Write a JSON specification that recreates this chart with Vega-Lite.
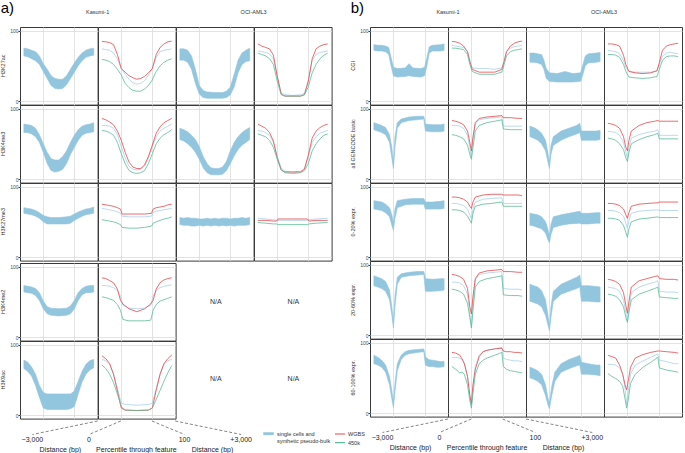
{
"$schema":"https://vega.github.io/schema/vega-lite/v6.json",
"padding":{"left":0,"top":0,"right":0,"bottom":0},
"background":"white",
"spacing":17,
"resolve":{"scale":{"fill":"shared","stroke":"shared"},"legend":{"fill":"shared","stroke":"shared"}},
"config":{"font":"Liberation Sans","view":{"stroke":"#3a3a3a","strokeWidth":1},
"axis":{"gridColor":"#dcdcdc","gridWidth":0.8,"labelFontSize":5,"labelColor":"#4d4d4d","tickColor":"#333","tickSize":2,"labelPadding":0,"domain":false},
"legend":{"labelFontSize":5.5,"labelColor":"#333"}},
"datasets":{
"na":[{"m":"H3K4me2","k":"O1","t":"N/A"},{"m":"H3K4me2","k":"O2","t":"N/A"},{"m":"H3K9ac","k":"O1","t":"N/A"},{"m":"H3K9ac","k":"O2","t":"N/A"}],
"ann":[{"lab":"−3,000","top":100,"bot":16},{"lab":"0","top":130,"bot":89},{"lab":"100","top":170,"bot":212},{"lab":"+3,000","top":200,"bot":285}],
"anntitle":[{"t":"Distance (bp)","c":52},{"t":"Percentile through feature","c":150},{"t":"Distance (bp)","c":248}],
"a":[
{"m":"H3K27ac","k":"K1","x":5,"lo":64,"hi":75},{"m":"H3K27ac","k":"K1","x":10,"lo":63,"hi":74},{"m":"H3K27ac","k":"K1","x":15,"lo":60,"hi":72},{"m":"H3K27ac","k":"K1","x":20,"lo":57,"hi":70},{"m":"H3K27ac","k":"K1","x":25,"lo":52,"hi":64},{"m":"H3K27ac","k":"K1","x":30,"lo":42,"hi":53},{"m":"H3K27ac","k":"K1","x":35,"lo":32,"hi":45},{"m":"H3K27ac","k":"K1","x":40,"lo":22,"hi":36},{"m":"H3K27ac","k":"K1","x":45,"lo":18,"hi":32},{"m":"H3K27ac","k":"K1","x":50,"lo":17,"hi":31},{"m":"H3K27ac","k":"K1","x":55,"lo":18,"hi":31},{"m":"H3K27ac","k":"K1","x":60,"lo":23,"hi":36},{"m":"H3K27ac","k":"K1","x":65,"lo":32,"hi":45},{"m":"H3K27ac","k":"K1","x":70,"lo":41,"hi":54},{"m":"H3K27ac","k":"K1","x":75,"lo":50,"hi":62},{"m":"H3K27ac","k":"K1","x":80,"lo":57,"hi":68},{"m":"H3K27ac","k":"K1","x":85,"lo":62,"hi":72},{"m":"H3K27ac","k":"K1","x":90,"lo":64,"hi":74},{"m":"H3K27ac","k":"K1","x":95,"lo":65,"hi":75},
{"m":"H3K27ac","k":"K2","x":5,"p":74,"w":84.5,"g":59},{"m":"H3K27ac","k":"K2","x":10,"p":73,"w":84,"g":58},{"m":"H3K27ac","k":"K2","x":15,"p":72,"w":83,"g":56},{"m":"H3K27ac","k":"K2","x":20,"p":68,"w":80,"g":52},{"m":"H3K27ac","k":"K2","x":25,"p":60,"w":66,"g":45},{"m":"H3K27ac","k":"K2","x":30,"p":46,"w":46,"g":37},{"m":"H3K27ac","k":"K2","x":35,"p":38,"w":41,"g":25},{"m":"H3K27ac","k":"K2","x":40,"p":31,"w":36,"g":19},{"m":"H3K27ac","k":"K2","x":45,"p":26,"w":33,"g":15},{"m":"H3K27ac","k":"K2","x":50,"p":24,"w":31,"g":14},{"m":"H3K27ac","k":"K2","x":55,"p":25,"w":32,"g":14},{"m":"H3K27ac","k":"K2","x":60,"p":29,"w":35,"g":17},{"m":"H3K27ac","k":"K2","x":65,"p":37,"w":40,"g":22},{"m":"H3K27ac","k":"K2","x":70,"p":46,"w":46,"g":30},{"m":"H3K27ac","k":"K2","x":75,"p":62,"w":66,"g":42},{"m":"H3K27ac","k":"K2","x":80,"p":70,"w":76,"g":50},{"m":"H3K27ac","k":"K2","x":85,"p":72,"w":81,"g":55},{"m":"H3K27ac","k":"K2","x":90,"p":73,"w":84,"g":58},{"m":"H3K27ac","k":"K2","x":95,"p":74,"w":85,"g":60},
{"m":"H3K27ac","k":"O1","x":5,"lo":58,"hi":74},{"m":"H3K27ac","k":"O1","x":10,"lo":58,"hi":74},{"m":"H3K27ac","k":"O1","x":15,"lo":55,"hi":72},{"m":"H3K27ac","k":"O1","x":20,"lo":45,"hi":64},{"m":"H3K27ac","k":"O1","x":25,"lo":25,"hi":45},{"m":"H3K27ac","k":"O1","x":30,"lo":10,"hi":22},{"m":"H3K27ac","k":"O1","x":35,"lo":5,"hi":15},{"m":"H3K27ac","k":"O1","x":40,"lo":4,"hi":13},{"m":"H3K27ac","k":"O1","x":50,"lo":4,"hi":12},{"m":"H3K27ac","k":"O1","x":60,"lo":4,"hi":12},{"m":"H3K27ac","k":"O1","x":65,"lo":5,"hi":14},{"m":"H3K27ac","k":"O1","x":70,"lo":9,"hi":20},{"m":"H3K27ac","k":"O1","x":75,"lo":20,"hi":38},{"m":"H3K27ac","k":"O1","x":80,"lo":40,"hi":58},{"m":"H3K27ac","k":"O1","x":85,"lo":52,"hi":68},{"m":"H3K27ac","k":"O1","x":90,"lo":56,"hi":72},{"m":"H3K27ac","k":"O1","x":95,"lo":57,"hi":75},
{"m":"H3K27ac","k":"O2","x":5,"p":71,"w":81,"g":68},{"m":"H3K27ac","k":"O2","x":10,"p":70,"w":78,"g":66},{"m":"H3K27ac","k":"O2","x":15,"p":69,"w":76,"g":64},{"m":"H3K27ac","k":"O2","x":20,"p":67,"w":74,"g":60},{"m":"H3K27ac","k":"O2","x":25,"p":60,"w":65,"g":52},{"m":"H3K27ac","k":"O2","x":30,"p":35,"w":35,"g":28},{"m":"H3K27ac","k":"O2","x":35,"p":12,"w":10,"g":9},{"m":"H3K27ac","k":"O2","x":40,"p":9,"w":7,"g":7},{"m":"H3K27ac","k":"O2","x":50,"p":8,"w":7,"g":7},{"m":"H3K27ac","k":"O2","x":60,"p":9,"w":7,"g":7},{"m":"H3K27ac","k":"O2","x":65,"p":11,"w":9,"g":9},{"m":"H3K27ac","k":"O2","x":70,"p":30,"w":28,"g":20},{"m":"H3K27ac","k":"O2","x":75,"p":58,"w":60,"g":40},{"m":"H3K27ac","k":"O2","x":80,"p":66,"w":74,"g":52},{"m":"H3K27ac","k":"O2","x":85,"p":69,"w":78,"g":60},{"m":"H3K27ac","k":"O2","x":90,"p":70,"w":80,"g":65},{"m":"H3K27ac","k":"O2","x":95,"p":71,"w":81,"g":68},
{"m":"H3K4me3","k":"K1","x":5,"lo":66,"hi":78},{"m":"H3K4me3","k":"K1","x":10,"lo":66,"hi":77},{"m":"H3K4me3","k":"K1","x":15,"lo":64,"hi":76},{"m":"H3K4me3","k":"K1","x":20,"lo":60,"hi":72},{"m":"H3K4me3","k":"K1","x":25,"lo":52,"hi":63},{"m":"H3K4me3","k":"K1","x":30,"lo":38,"hi":50},{"m":"H3K4me3","k":"K1","x":35,"lo":22,"hi":38},{"m":"H3K4me3","k":"K1","x":40,"lo":12,"hi":29},{"m":"H3K4me3","k":"K1","x":45,"lo":10,"hi":27},{"m":"H3K4me3","k":"K1","x":50,"lo":11,"hi":27},{"m":"H3K4me3","k":"K1","x":55,"lo":14,"hi":32},{"m":"H3K4me3","k":"K1","x":60,"lo":22,"hi":40},{"m":"H3K4me3","k":"K1","x":65,"lo":35,"hi":52},{"m":"H3K4me3","k":"K1","x":70,"lo":45,"hi":62},{"m":"H3K4me3","k":"K1","x":75,"lo":55,"hi":70},{"m":"H3K4me3","k":"K1","x":80,"lo":62,"hi":75},{"m":"H3K4me3","k":"K1","x":85,"lo":65,"hi":77},{"m":"H3K4me3","k":"K1","x":90,"lo":66,"hi":78},{"m":"H3K4me3","k":"K1","x":95,"lo":67,"hi":80},
{"m":"H3K4me3","k":"K2","x":5,"p":76,"w":86,"g":69},{"m":"H3K4me3","k":"K2","x":10,"p":76,"w":84,"g":68},{"m":"H3K4me3","k":"K2","x":15,"p":75,"w":81,"g":66},{"m":"H3K4me3","k":"K2","x":20,"p":72,"w":77,"g":62},{"m":"H3K4me3","k":"K2","x":25,"p":63,"w":68,"g":52},{"m":"H3K4me3","k":"K2","x":30,"p":46,"w":55,"g":36},{"m":"H3K4me3","k":"K2","x":35,"p":30,"w":38,"g":22},{"m":"H3K4me3","k":"K2","x":40,"p":18,"w":24,"g":12},{"m":"H3K4me3","k":"K2","x":45,"p":14,"w":17,"g":9},{"m":"H3K4me3","k":"K2","x":50,"p":13,"w":15,"g":8},{"m":"H3K4me3","k":"K2","x":55,"p":14,"w":15,"g":9},{"m":"H3K4me3","k":"K2","x":60,"p":18,"w":20,"g":12},{"m":"H3K4me3","k":"K2","x":65,"p":30,"w":32,"g":22},{"m":"H3K4me3","k":"K2","x":70,"p":46,"w":48,"g":36},{"m":"H3K4me3","k":"K2","x":75,"p":60,"w":65,"g":50},{"m":"H3K4me3","k":"K2","x":80,"p":68,"w":74,"g":58},{"m":"H3K4me3","k":"K2","x":85,"p":72,"w":80,"g":63},{"m":"H3K4me3","k":"K2","x":90,"p":75,"w":83,"g":66},{"m":"H3K4me3","k":"K2","x":95,"p":78,"w":86,"g":70},
{"m":"H3K4me3","k":"O1","x":5,"lo":56,"hi":72},{"m":"H3K4me3","k":"O1","x":10,"lo":54,"hi":70},{"m":"H3K4me3","k":"O1","x":15,"lo":50,"hi":67},{"m":"H3K4me3","k":"O1","x":20,"lo":45,"hi":62},{"m":"H3K4me3","k":"O1","x":25,"lo":38,"hi":56},{"m":"H3K4me3","k":"O1","x":30,"lo":28,"hi":46},{"m":"H3K4me3","k":"O1","x":35,"lo":16,"hi":32},{"m":"H3K4me3","k":"O1","x":40,"lo":9,"hi":22},{"m":"H3K4me3","k":"O1","x":45,"lo":6,"hi":16},{"m":"H3K4me3","k":"O1","x":50,"lo":6,"hi":15},{"m":"H3K4me3","k":"O1","x":55,"lo":6,"hi":15},{"m":"H3K4me3","k":"O1","x":60,"lo":7,"hi":17},{"m":"H3K4me3","k":"O1","x":65,"lo":12,"hi":25},{"m":"H3K4me3","k":"O1","x":70,"lo":22,"hi":40},{"m":"H3K4me3","k":"O1","x":75,"lo":33,"hi":52},{"m":"H3K4me3","k":"O1","x":80,"lo":42,"hi":60},{"m":"H3K4me3","k":"O1","x":85,"lo":48,"hi":66},{"m":"H3K4me3","k":"O1","x":90,"lo":52,"hi":70},{"m":"H3K4me3","k":"O1","x":95,"lo":56,"hi":73},
{"m":"H3K4me3","k":"O2","x":5,"p":69,"w":78,"g":64},{"m":"H3K4me3","k":"O2","x":10,"p":68,"w":75,"g":62},{"m":"H3K4me3","k":"O2","x":15,"p":66,"w":72,"g":60},{"m":"H3K4me3","k":"O2","x":20,"p":62,"w":66,"g":55},{"m":"H3K4me3","k":"O2","x":25,"p":52,"w":54,"g":45},{"m":"H3K4me3","k":"O2","x":30,"p":32,"w":30,"g":28},{"m":"H3K4me3","k":"O2","x":35,"p":16,"w":13,"g":13},{"m":"H3K4me3","k":"O2","x":40,"p":11,"w":10,"g":9},{"m":"H3K4me3","k":"O2","x":50,"p":10,"w":10,"g":8},{"m":"H3K4me3","k":"O2","x":60,"p":11,"w":10,"g":9},{"m":"H3K4me3","k":"O2","x":65,"p":15,"w":14,"g":12},{"m":"H3K4me3","k":"O2","x":70,"p":32,"w":34,"g":22},{"m":"H3K4me3","k":"O2","x":75,"p":52,"w":58,"g":40},{"m":"H3K4me3","k":"O2","x":80,"p":60,"w":68,"g":50},{"m":"H3K4me3","k":"O2","x":85,"p":65,"w":73,"g":57},{"m":"H3K4me3","k":"O2","x":90,"p":67,"w":76,"g":62},{"m":"H3K4me3","k":"O2","x":95,"p":69,"w":78,"g":64},
{"m":"H3K27me3","k":"K1","x":5,"lo":62,"hi":70},{"m":"H3K27me3","k":"K1","x":10,"lo":61,"hi":69},{"m":"H3K27me3","k":"K1","x":15,"lo":60,"hi":68},{"m":"H3K27me3","k":"K1","x":20,"lo":58,"hi":66},{"m":"H3K27me3","k":"K1","x":25,"lo":55,"hi":63},{"m":"H3K27me3","k":"K1","x":30,"lo":50,"hi":59},{"m":"H3K27me3","k":"K1","x":35,"lo":47,"hi":57},{"m":"H3K27me3","k":"K1","x":40,"lo":47,"hi":56},{"m":"H3K27me3","k":"K1","x":50,"lo":47,"hi":56},{"m":"H3K27me3","k":"K1","x":60,"lo":47,"hi":57},{"m":"H3K27me3","k":"K1","x":65,"lo":48,"hi":58},{"m":"H3K27me3","k":"K1","x":70,"lo":52,"hi":61},{"m":"H3K27me3","k":"K1","x":75,"lo":55,"hi":64},{"m":"H3K27me3","k":"K1","x":80,"lo":58,"hi":66},{"m":"H3K27me3","k":"K1","x":85,"lo":60,"hi":68},{"m":"H3K27me3","k":"K1","x":90,"lo":61,"hi":69},{"m":"H3K27me3","k":"K1","x":95,"lo":62,"hi":71},
{"m":"H3K27me3","k":"K2","x":5,"p":69,"w":75,"g":53},{"m":"H3K27me3","k":"K2","x":10,"p":68,"w":74,"g":52},{"m":"H3K27me3","k":"K2","x":15,"p":67,"w":73,"g":51},{"m":"H3K27me3","k":"K2","x":20,"p":66,"w":72,"g":50},{"m":"H3K27me3","k":"K2","x":25,"p":64,"w":70,"g":48},{"m":"H3K27me3","k":"K2","x":29,"p":62,"w":68,"g":46},{"m":"H3K27me3","k":"K2","x":31,"p":58,"w":61,"g":42},{"m":"H3K27me3","k":"K2","x":40,"p":57,"w":61,"g":41},{"m":"H3K27me3","k":"K2","x":50,"p":57,"w":61,"g":41},{"m":"H3K27me3","k":"K2","x":60,"p":57,"w":61,"g":42},{"m":"H3K27me3","k":"K2","x":69,"p":58,"w":62,"g":44},{"m":"H3K27me3","k":"K2","x":71,"p":63,"w":68,"g":48},{"m":"H3K27me3","k":"K2","x":75,"p":65,"w":70,"g":50},{"m":"H3K27me3","k":"K2","x":80,"p":66,"w":71,"g":52},{"m":"H3K27me3","k":"K2","x":85,"p":67,"w":72,"g":54},{"m":"H3K27me3","k":"K2","x":90,"p":68,"w":74,"g":55},{"m":"H3K27me3","k":"K2","x":95,"p":69,"w":75,"g":57},
{"m":"H3K27me3","k":"O1","x":5,"lo":46,"hi":56},{"m":"H3K27me3","k":"O1","x":10,"lo":45,"hi":55},{"m":"H3K27me3","k":"O1","x":15,"lo":45,"hi":56},{"m":"H3K27me3","k":"O1","x":20,"lo":44,"hi":55},{"m":"H3K27me3","k":"O1","x":25,"lo":44,"hi":55},{"m":"H3K27me3","k":"O1","x":30,"lo":45,"hi":54},{"m":"H3K27me3","k":"O1","x":35,"lo":44,"hi":54},{"m":"H3K27me3","k":"O1","x":40,"lo":45,"hi":55},{"m":"H3K27me3","k":"O1","x":45,"lo":44,"hi":54},{"m":"H3K27me3","k":"O1","x":50,"lo":45,"hi":55},{"m":"H3K27me3","k":"O1","x":55,"lo":44,"hi":54},{"m":"H3K27me3","k":"O1","x":60,"lo":45,"hi":55},{"m":"H3K27me3","k":"O1","x":65,"lo":44,"hi":55},{"m":"H3K27me3","k":"O1","x":70,"lo":45,"hi":54},{"m":"H3K27me3","k":"O1","x":75,"lo":44,"hi":55},{"m":"H3K27me3","k":"O1","x":80,"lo":45,"hi":55},{"m":"H3K27me3","k":"O1","x":85,"lo":45,"hi":56},{"m":"H3K27me3","k":"O1","x":90,"lo":45,"hi":55},{"m":"H3K27me3","k":"O1","x":95,"lo":46,"hi":56},
{"m":"H3K27me3","k":"O2","x":5,"p":55,"w":52,"g":49},{"m":"H3K27me3","k":"O2","x":15,"p":54,"w":52,"g":48},{"m":"H3K27me3","k":"O2","x":25,"p":53,"w":51,"g":47},{"m":"H3K27me3","k":"O2","x":29,"p":52,"w":51,"g":47},{"m":"H3K27me3","k":"O2","x":31,"p":52,"w":54,"g":46},{"m":"H3K27me3","k":"O2","x":50,"p":52,"w":54,"g":46},{"m":"H3K27me3","k":"O2","x":69,"p":52,"w":54,"g":46},{"m":"H3K27me3","k":"O2","x":71,"p":53,"w":51,"g":47},{"m":"H3K27me3","k":"O2","x":80,"p":54,"w":52,"g":48},{"m":"H3K27me3","k":"O2","x":95,"p":55,"w":52,"g":49},
{"m":"H3K4me2","k":"K1","x":5,"lo":64,"hi":73},{"m":"H3K4me2","k":"K1","x":10,"lo":63,"hi":72},{"m":"H3K4me2","k":"K1","x":15,"lo":62,"hi":71},{"m":"H3K4me2","k":"K1","x":20,"lo":59,"hi":69},{"m":"H3K4me2","k":"K1","x":25,"lo":52,"hi":63},{"m":"H3K4me2","k":"K1","x":30,"lo":40,"hi":51},{"m":"H3K4me2","k":"K1","x":35,"lo":33,"hi":43},{"m":"H3K4me2","k":"K1","x":40,"lo":31,"hi":41},{"m":"H3K4me2","k":"K1","x":50,"lo":30,"hi":40},{"m":"H3K4me2","k":"K1","x":60,"lo":31,"hi":41},{"m":"H3K4me2","k":"K1","x":65,"lo":33,"hi":44},{"m":"H3K4me2","k":"K1","x":70,"lo":40,"hi":52},{"m":"H3K4me2","k":"K1","x":75,"lo":52,"hi":63},{"m":"H3K4me2","k":"K1","x":80,"lo":60,"hi":69},{"m":"H3K4me2","k":"K1","x":85,"lo":63,"hi":72},{"m":"H3K4me2","k":"K1","x":90,"lo":63,"hi":73},{"m":"H3K4me2","k":"K1","x":95,"lo":64,"hi":73},
{"m":"H3K4me2","k":"K2","x":5,"p":73,"w":84,"g":57},{"m":"H3K4me2","k":"K2","x":10,"p":73,"w":83,"g":56},{"m":"H3K4me2","k":"K2","x":15,"p":72,"w":80,"g":54},{"m":"H3K4me2","k":"K2","x":20,"p":70,"w":77,"g":52},{"m":"H3K4me2","k":"K2","x":25,"p":66,"w":68,"g":46},{"m":"H3K4me2","k":"K2","x":29,"p":58,"w":52,"g":38},{"m":"H3K4me2","k":"K2","x":32,"p":45,"w":47,"g":25},{"m":"H3K4me2","k":"K2","x":40,"p":41,"w":40,"g":23},{"m":"H3K4me2","k":"K2","x":50,"p":40,"w":36,"g":23},{"m":"H3K4me2","k":"K2","x":60,"p":41,"w":40,"g":23},{"m":"H3K4me2","k":"K2","x":68,"p":45,"w":47,"g":24},{"m":"H3K4me2","k":"K2","x":71,"p":58,"w":52,"g":38},{"m":"H3K4me2","k":"K2","x":75,"p":66,"w":68,"g":46},{"m":"H3K4me2","k":"K2","x":80,"p":70,"w":77,"g":51},{"m":"H3K4me2","k":"K2","x":85,"p":72,"w":81,"g":53},{"m":"H3K4me2","k":"K2","x":90,"p":73,"w":83,"g":55},{"m":"H3K4me2","k":"K2","x":95,"p":74,"w":84,"g":57},
{"m":"H3K9ac","k":"K1","x":5,"lo":66,"hi":78},{"m":"H3K9ac","k":"K1","x":10,"lo":62,"hi":75},{"m":"H3K9ac","k":"K1","x":15,"lo":55,"hi":68},{"m":"H3K9ac","k":"K1","x":20,"lo":42,"hi":58},{"m":"H3K9ac","k":"K1","x":25,"lo":25,"hi":42},{"m":"H3K9ac","k":"K1","x":30,"lo":10,"hi":32},{"m":"H3K9ac","k":"K1","x":35,"lo":8,"hi":30},{"m":"H3K9ac","k":"K1","x":40,"lo":8,"hi":30},{"m":"H3K9ac","k":"K1","x":50,"lo":8,"hi":30},{"m":"H3K9ac","k":"K1","x":60,"lo":8,"hi":30},{"m":"H3K9ac","k":"K1","x":65,"lo":9,"hi":30},{"m":"H3K9ac","k":"K1","x":70,"lo":12,"hi":34},{"m":"H3K9ac","k":"K1","x":75,"lo":30,"hi":48},{"m":"H3K9ac","k":"K1","x":80,"lo":47,"hi":62},{"m":"H3K9ac","k":"K1","x":85,"lo":58,"hi":72},{"m":"H3K9ac","k":"K1","x":90,"lo":64,"hi":77},{"m":"H3K9ac","k":"K1","x":95,"lo":67,"hi":79},
{"m":"H3K9ac","k":"K2","x":5,"p":79,"w":84,"g":71},{"m":"H3K9ac","k":"K2","x":10,"p":77,"w":80,"g":66},{"m":"H3K9ac","k":"K2","x":15,"p":72,"w":73,"g":58},{"m":"H3K9ac","k":"K2","x":20,"p":58,"w":58,"g":46},{"m":"H3K9ac","k":"K2","x":25,"p":38,"w":34,"g":30},{"m":"H3K9ac","k":"K2","x":30,"p":17,"w":10,"g":12},{"m":"H3K9ac","k":"K2","x":35,"p":15,"w":7,"g":7},{"m":"H3K9ac","k":"K2","x":50,"p":14,"w":6.5,"g":6.5},{"m":"H3K9ac","k":"K2","x":65,"p":15,"w":7,"g":7},{"m":"H3K9ac","k":"K2","x":70,"p":17,"w":10,"g":10},{"m":"H3K9ac","k":"K2","x":75,"p":38,"w":35,"g":22},{"m":"H3K9ac","k":"K2","x":80,"p":58,"w":58,"g":35},{"m":"H3K9ac","k":"K2","x":85,"p":72,"w":73,"g":48},{"m":"H3K9ac","k":"K2","x":90,"p":77,"w":80,"g":60},{"m":"H3K9ac","k":"K2","x":95,"p":79,"w":85,"g":70}
],
"b":[
{"m":"CGI","k":"K1","x":5,"lo":72,"hi":80},{"m":"CGI","k":"K1","x":10,"lo":71,"hi":79},{"m":"CGI","k":"K1","x":15,"lo":71,"hi":79},{"m":"CGI","k":"K1","x":20,"lo":70,"hi":78},{"m":"CGI","k":"K1","x":24,"lo":66,"hi":76},{"m":"CGI","k":"K1","x":27,"lo":50,"hi":62},{"m":"CGI","k":"K1","x":30,"lo":36,"hi":48},{"m":"CGI","k":"K1","x":35,"lo":34,"hi":46},{"m":"CGI","k":"K1","x":45,"lo":35,"hi":47},{"m":"CGI","k":"K1","x":50,"lo":36,"hi":53},{"m":"CGI","k":"K1","x":55,"lo":35,"hi":47},{"m":"CGI","k":"K1","x":65,"lo":34,"hi":46},{"m":"CGI","k":"K1","x":70,"lo":36,"hi":48},{"m":"CGI","k":"K1","x":73,"lo":50,"hi":62},{"m":"CGI","k":"K1","x":76,"lo":68,"hi":77},{"m":"CGI","k":"K1","x":80,"lo":71,"hi":79},{"m":"CGI","k":"K1","x":90,"lo":71,"hi":80},{"m":"CGI","k":"K1","x":95,"lo":72,"hi":81},
{"m":"CGI","k":"K2","x":5,"p":79,"w":84.5,"g":75},{"m":"CGI","k":"K2","x":10,"p":78,"w":84,"g":75},{"m":"CGI","k":"K2","x":15,"p":77,"w":82,"g":74},{"m":"CGI","k":"K2","x":20,"p":76,"w":78,"g":73},{"m":"CGI","k":"K2","x":25,"p":70,"w":70,"g":66},{"m":"CGI","k":"K2","x":28,"p":58,"w":56,"g":52},{"m":"CGI","k":"K2","x":31,"p":47,"w":45,"g":42},{"m":"CGI","k":"K2","x":40,"p":46,"w":41,"g":38},{"m":"CGI","k":"K2","x":50,"p":46,"w":41,"g":38},{"m":"CGI","k":"K2","x":60,"p":45,"w":41,"g":38},{"m":"CGI","k":"K2","x":69,"p":47,"w":45,"g":41},{"m":"CGI","k":"K2","x":72,"p":58,"w":56,"g":52},{"m":"CGI","k":"K2","x":75,"p":70,"w":70,"g":64},{"m":"CGI","k":"K2","x":80,"p":75,"w":78,"g":70},{"m":"CGI","k":"K2","x":85,"p":77,"w":82,"g":72},{"m":"CGI","k":"K2","x":90,"p":78,"w":84,"g":73},{"m":"CGI","k":"K2","x":95,"p":79,"w":85,"g":74},
{"m":"CGI","k":"O1","x":5,"lo":55,"hi":68},{"m":"CGI","k":"O1","x":10,"lo":55,"hi":68},{"m":"CGI","k":"O1","x":15,"lo":54,"hi":67},{"m":"CGI","k":"O1","x":20,"lo":52,"hi":66},{"m":"CGI","k":"O1","x":23,"lo":45,"hi":58},{"m":"CGI","k":"O1","x":26,"lo":32,"hi":46},{"m":"CGI","k":"O1","x":30,"lo":28,"hi":40},{"m":"CGI","k":"O1","x":40,"lo":27,"hi":39},{"m":"CGI","k":"O1","x":50,"lo":27,"hi":42},{"m":"CGI","k":"O1","x":60,"lo":27,"hi":39},{"m":"CGI","k":"O1","x":70,"lo":28,"hi":40},{"m":"CGI","k":"O1","x":73,"lo":38,"hi":52},{"m":"CGI","k":"O1","x":76,"lo":50,"hi":64},{"m":"CGI","k":"O1","x":80,"lo":54,"hi":67},{"m":"CGI","k":"O1","x":90,"lo":55,"hi":68},{"m":"CGI","k":"O1","x":95,"lo":56,"hi":69},
{"m":"CGI","k":"O2","x":5,"p":72,"w":81,"g":66},{"m":"CGI","k":"O2","x":10,"p":71,"w":81,"g":66},{"m":"CGI","k":"O2","x":15,"p":70,"w":80,"g":65},{"m":"CGI","k":"O2","x":20,"p":67,"w":78,"g":62},{"m":"CGI","k":"O2","x":25,"p":58,"w":65,"g":52},{"m":"CGI","k":"O2","x":28,"p":48,"w":52,"g":42},{"m":"CGI","k":"O2","x":32,"p":42,"w":42,"g":34},{"m":"CGI","k":"O2","x":40,"p":41,"w":40,"g":33},{"m":"CGI","k":"O2","x":50,"p":41,"w":39,"g":32},{"m":"CGI","k":"O2","x":60,"p":41,"w":40,"g":33},{"m":"CGI","k":"O2","x":68,"p":43,"w":43,"g":35},{"m":"CGI","k":"O2","x":71,"p":52,"w":55,"g":45},{"m":"CGI","k":"O2","x":75,"p":64,"w":72,"g":58},{"m":"CGI","k":"O2","x":80,"p":68,"w":78,"g":63},{"m":"CGI","k":"O2","x":85,"p":69,"w":80,"g":64},{"m":"CGI","k":"O2","x":90,"p":68,"w":81,"g":64},{"m":"CGI","k":"O2","x":95,"p":67,"w":82,"g":63},
{"m":"all GENCODE basic","k":"K1","x":5,"lo":70,"hi":80},{"m":"all GENCODE basic","k":"K1","x":10,"lo":68,"hi":78},{"m":"all GENCODE basic","k":"K1","x":15,"lo":66,"hi":76},{"m":"all GENCODE basic","k":"K1","x":20,"lo":63,"hi":73},{"m":"all GENCODE basic","k":"K1","x":25,"lo":52,"hi":63},{"m":"all GENCODE basic","k":"K1","x":28,"lo":30,"hi":45},{"m":"all GENCODE basic","k":"K1","x":30,"lo":15,"hi":22},{"m":"all GENCODE basic","k":"K1","x":32,"lo":45,"hi":60},{"m":"all GENCODE basic","k":"K1","x":35,"lo":72,"hi":80},{"m":"all GENCODE basic","k":"K1","x":40,"lo":80,"hi":85},{"m":"all GENCODE basic","k":"K1","x":50,"lo":83,"hi":88},{"m":"all GENCODE basic","k":"K1","x":60,"lo":84,"hi":89},{"m":"all GENCODE basic","k":"K1","x":69,"lo":85,"hi":89},{"m":"all GENCODE basic","k":"K1","x":71,"lo":68,"hi":78},{"m":"all GENCODE basic","k":"K1","x":80,"lo":67,"hi":77},{"m":"all GENCODE basic","k":"K1","x":90,"lo":67,"hi":77},{"m":"all GENCODE basic","k":"K1","x":95,"lo":68,"hi":78},
{"m":"all GENCODE basic","k":"K2","x":5,"p":76,"w":83,"g":63},{"m":"all GENCODE basic","k":"K2","x":10,"p":76,"w":82,"g":62},{"m":"all GENCODE basic","k":"K2","x":15,"p":75,"w":80,"g":60},{"m":"all GENCODE basic","k":"K2","x":20,"p":72,"w":77,"g":57},{"m":"all GENCODE basic","k":"K2","x":25,"p":62,"w":68,"g":48},{"m":"all GENCODE basic","k":"K2","x":28,"p":45,"w":52,"g":35},{"m":"all GENCODE basic","k":"K2","x":30,"p":31,"w":40,"g":28},{"m":"all GENCODE basic","k":"K2","x":32,"p":55,"w":60,"g":45},{"m":"all GENCODE basic","k":"K2","x":35,"p":78,"w":80,"g":68},{"m":"all GENCODE basic","k":"K2","x":40,"p":84,"w":86,"g":76},{"m":"all GENCODE basic","k":"K2","x":50,"p":86,"w":88,"g":80},{"m":"all GENCODE basic","k":"K2","x":60,"p":87,"w":89,"g":82},{"m":"all GENCODE basic","k":"K2","x":69,"p":88,"w":90,"g":84},{"m":"all GENCODE basic","k":"K2","x":71,"p":75,"w":87,"g":71},{"m":"all GENCODE basic","k":"K2","x":80,"p":75,"w":87,"g":70},{"m":"all GENCODE basic","k":"K2","x":90,"p":75,"w":86,"g":70},{"m":"all GENCODE basic","k":"K2","x":95,"p":75,"w":86,"g":70},
{"m":"all GENCODE basic","k":"O1","x":5,"lo":60,"hi":75},{"m":"all GENCODE basic","k":"O1","x":10,"lo":58,"hi":73},{"m":"all GENCODE basic","k":"O1","x":15,"lo":55,"hi":70},{"m":"all GENCODE basic","k":"O1","x":20,"lo":50,"hi":65},{"m":"all GENCODE basic","k":"O1","x":25,"lo":40,"hi":55},{"m":"all GENCODE basic","k":"O1","x":28,"lo":25,"hi":38},{"m":"all GENCODE basic","k":"O1","x":30,"lo":15,"hi":22},{"m":"all GENCODE basic","k":"O1","x":32,"lo":35,"hi":48},{"m":"all GENCODE basic","k":"O1","x":35,"lo":48,"hi":60},{"m":"all GENCODE basic","k":"O1","x":45,"lo":55,"hi":68},{"m":"all GENCODE basic","k":"O1","x":55,"lo":60,"hi":72},{"m":"all GENCODE basic","k":"O1","x":65,"lo":64,"hi":76},{"m":"all GENCODE basic","k":"O1","x":69,"lo":66,"hi":79},{"m":"all GENCODE basic","k":"O1","x":71,"lo":55,"hi":68},{"m":"all GENCODE basic","k":"O1","x":80,"lo":55,"hi":68},{"m":"all GENCODE basic","k":"O1","x":90,"lo":55,"hi":68},{"m":"all GENCODE basic","k":"O1","x":95,"lo":56,"hi":69},
{"m":"all GENCODE basic","k":"O2","x":5,"p":68,"w":79,"g":58},{"m":"all GENCODE basic","k":"O2","x":10,"p":67,"w":78,"g":57},{"m":"all GENCODE basic","k":"O2","x":15,"p":66,"w":76,"g":55},{"m":"all GENCODE basic","k":"O2","x":20,"p":62,"w":72,"g":50},{"m":"all GENCODE basic","k":"O2","x":25,"p":52,"w":60,"g":42},{"m":"all GENCODE basic","k":"O2","x":28,"p":38,"w":45,"g":30},{"m":"all GENCODE basic","k":"O2","x":30,"p":30,"w":40,"g":25},{"m":"all GENCODE basic","k":"O2","x":32,"p":45,"w":55,"g":38},{"m":"all GENCODE basic","k":"O2","x":35,"p":58,"w":68,"g":50},{"m":"all GENCODE basic","k":"O2","x":45,"p":63,"w":76,"g":56},{"m":"all GENCODE basic","k":"O2","x":55,"p":66,"w":80,"g":60},{"m":"all GENCODE basic","k":"O2","x":65,"p":68,"w":82,"g":63},{"m":"all GENCODE basic","k":"O2","x":69,"p":70,"w":83,"g":65},{"m":"all GENCODE basic","k":"O2","x":71,"p":62,"w":82,"g":57},{"m":"all GENCODE basic","k":"O2","x":80,"p":62,"w":82,"g":57},{"m":"all GENCODE basic","k":"O2","x":90,"p":62,"w":82,"g":57},{"m":"all GENCODE basic","k":"O2","x":95,"p":62,"w":82,"g":57},
{"m":"0-20% expr.","k":"K1","x":5,"lo":68,"hi":80},{"m":"0-20% expr.","k":"K1","x":10,"lo":67,"hi":79},{"m":"0-20% expr.","k":"K1","x":15,"lo":66,"hi":78},{"m":"0-20% expr.","k":"K1","x":20,"lo":63,"hi":75},{"m":"0-20% expr.","k":"K1","x":25,"lo":57,"hi":70},{"m":"0-20% expr.","k":"K1","x":28,"lo":45,"hi":60},{"m":"0-20% expr.","k":"K1","x":30,"lo":38,"hi":48},{"m":"0-20% expr.","k":"K1","x":32,"lo":55,"hi":68},{"m":"0-20% expr.","k":"K1","x":35,"lo":70,"hi":80},{"m":"0-20% expr.","k":"K1","x":45,"lo":74,"hi":82},{"m":"0-20% expr.","k":"K1","x":55,"lo":75,"hi":83},{"m":"0-20% expr.","k":"K1","x":69,"lo":75,"hi":83},{"m":"0-20% expr.","k":"K1","x":71,"lo":68,"hi":78},{"m":"0-20% expr.","k":"K1","x":80,"lo":68,"hi":78},{"m":"0-20% expr.","k":"K1","x":90,"lo":68,"hi":79},{"m":"0-20% expr.","k":"K1","x":95,"lo":69,"hi":80},
{"m":"0-20% expr.","k":"K2","x":5,"p":76,"w":85,"g":67},{"m":"0-20% expr.","k":"K2","x":10,"p":76,"w":85,"g":67},{"m":"0-20% expr.","k":"K2","x":15,"p":75,"w":84,"g":66},{"m":"0-20% expr.","k":"K2","x":20,"p":73,"w":82,"g":64},{"m":"0-20% expr.","k":"K2","x":25,"p":68,"w":78,"g":58},{"m":"0-20% expr.","k":"K2","x":28,"p":60,"w":72,"g":52},{"m":"0-20% expr.","k":"K2","x":30,"p":55,"w":69,"g":48},{"m":"0-20% expr.","k":"K2","x":32,"p":68,"w":78,"g":62},{"m":"0-20% expr.","k":"K2","x":35,"p":78,"w":85,"g":72},{"m":"0-20% expr.","k":"K2","x":45,"p":82,"w":88,"g":75},{"m":"0-20% expr.","k":"K2","x":55,"p":83,"w":89,"g":76},{"m":"0-20% expr.","k":"K2","x":69,"p":84,"w":89,"g":78},{"m":"0-20% expr.","k":"K2","x":71,"p":76,"w":88,"g":72},{"m":"0-20% expr.","k":"K2","x":80,"p":76,"w":88,"g":72},{"m":"0-20% expr.","k":"K2","x":90,"p":76,"w":88,"g":72},{"m":"0-20% expr.","k":"K2","x":95,"p":76,"w":87,"g":72},
{"m":"0-20% expr.","k":"O1","x":5,"lo":45,"hi":62},{"m":"0-20% expr.","k":"O1","x":10,"lo":44,"hi":61},{"m":"0-20% expr.","k":"O1","x":15,"lo":42,"hi":60},{"m":"0-20% expr.","k":"O1","x":20,"lo":40,"hi":57},{"m":"0-20% expr.","k":"O1","x":25,"lo":34,"hi":50},{"m":"0-20% expr.","k":"O1","x":28,"lo":25,"hi":40},{"m":"0-20% expr.","k":"O1","x":30,"lo":20,"hi":30},{"m":"0-20% expr.","k":"O1","x":32,"lo":32,"hi":46},{"m":"0-20% expr.","k":"O1","x":35,"lo":42,"hi":57},{"m":"0-20% expr.","k":"O1","x":45,"lo":45,"hi":60},{"m":"0-20% expr.","k":"O1","x":55,"lo":47,"hi":62},{"m":"0-20% expr.","k":"O1","x":69,"lo":48,"hi":65},{"m":"0-20% expr.","k":"O1","x":71,"lo":47,"hi":62},{"m":"0-20% expr.","k":"O1","x":80,"lo":47,"hi":62},{"m":"0-20% expr.","k":"O1","x":90,"lo":48,"hi":63},{"m":"0-20% expr.","k":"O1","x":95,"lo":48,"hi":63},
{"m":"0-20% expr.","k":"O2","x":5,"p":66,"w":76,"g":55},{"m":"0-20% expr.","k":"O2","x":10,"p":66,"w":76,"g":55},{"m":"0-20% expr.","k":"O2","x":15,"p":65,"w":75,"g":54},{"m":"0-20% expr.","k":"O2","x":20,"p":63,"w":73,"g":52},{"m":"0-20% expr.","k":"O2","x":25,"p":58,"w":68,"g":45},{"m":"0-20% expr.","k":"O2","x":28,"p":48,"w":60,"g":35},{"m":"0-20% expr.","k":"O2","x":30,"p":41,"w":55,"g":28},{"m":"0-20% expr.","k":"O2","x":32,"p":52,"w":63,"g":40},{"m":"0-20% expr.","k":"O2","x":35,"p":62,"w":72,"g":50},{"m":"0-20% expr.","k":"O2","x":45,"p":65,"w":75,"g":54},{"m":"0-20% expr.","k":"O2","x":55,"p":66,"w":76,"g":55},{"m":"0-20% expr.","k":"O2","x":69,"p":67,"w":77,"g":57},{"m":"0-20% expr.","k":"O2","x":71,"p":66,"w":78,"g":56},{"m":"0-20% expr.","k":"O2","x":80,"p":66,"w":78,"g":56},{"m":"0-20% expr.","k":"O2","x":90,"p":66,"w":78,"g":56},{"m":"0-20% expr.","k":"O2","x":95,"p":66,"w":78,"g":56},
{"m":"20-60% expr.","k":"K1","x":5,"lo":70,"hi":84},{"m":"20-60% expr.","k":"K1","x":10,"lo":68,"hi":82},{"m":"20-60% expr.","k":"K1","x":15,"lo":66,"hi":80},{"m":"20-60% expr.","k":"K1","x":20,"lo":62,"hi":76},{"m":"20-60% expr.","k":"K1","x":25,"lo":50,"hi":64},{"m":"20-60% expr.","k":"K1","x":28,"lo":28,"hi":40},{"m":"20-60% expr.","k":"K1","x":30,"lo":10,"hi":18},{"m":"20-60% expr.","k":"K1","x":32,"lo":40,"hi":55},{"m":"20-60% expr.","k":"K1","x":35,"lo":72,"hi":82},{"m":"20-60% expr.","k":"K1","x":40,"lo":82,"hi":87},{"m":"20-60% expr.","k":"K1","x":50,"lo":84,"hi":89},{"m":"20-60% expr.","k":"K1","x":60,"lo":85,"hi":90},{"m":"20-60% expr.","k":"K1","x":69,"lo":86,"hi":90},{"m":"20-60% expr.","k":"K1","x":71,"lo":62,"hi":80},{"m":"20-60% expr.","k":"K1","x":80,"lo":62,"hi":79},{"m":"20-60% expr.","k":"K1","x":90,"lo":63,"hi":80},{"m":"20-60% expr.","k":"K1","x":95,"lo":64,"hi":80},
{"m":"20-60% expr.","k":"K2","x":5,"p":75,"w":86,"g":65},{"m":"20-60% expr.","k":"K2","x":10,"p":75,"w":85,"g":64},{"m":"20-60% expr.","k":"K2","x":15,"p":74,"w":83,"g":62},{"m":"20-60% expr.","k":"K2","x":20,"p":70,"w":79,"g":58},{"m":"20-60% expr.","k":"K2","x":25,"p":58,"w":66,"g":45},{"m":"20-60% expr.","k":"K2","x":28,"p":30,"w":40,"g":25},{"m":"20-60% expr.","k":"K2","x":30,"p":12,"w":30,"g":10},{"m":"20-60% expr.","k":"K2","x":32,"p":45,"w":55,"g":35},{"m":"20-60% expr.","k":"K2","x":35,"p":78,"w":80,"g":68},{"m":"20-60% expr.","k":"K2","x":40,"p":86,"w":88,"g":76},{"m":"20-60% expr.","k":"K2","x":50,"p":88,"w":91,"g":80},{"m":"20-60% expr.","k":"K2","x":60,"p":89,"w":92,"g":82},{"m":"20-60% expr.","k":"K2","x":69,"p":90,"w":93,"g":84},{"m":"20-60% expr.","k":"K2","x":71,"p":66,"w":90,"g":57},{"m":"20-60% expr.","k":"K2","x":80,"p":65,"w":90,"g":56},{"m":"20-60% expr.","k":"K2","x":90,"p":65,"w":89,"g":56},{"m":"20-60% expr.","k":"K2","x":95,"p":64,"w":89,"g":55},
{"m":"20-60% expr.","k":"O1","x":5,"lo":48,"hi":72},{"m":"20-60% expr.","k":"O1","x":10,"lo":46,"hi":70},{"m":"20-60% expr.","k":"O1","x":15,"lo":44,"hi":68},{"m":"20-60% expr.","k":"O1","x":20,"lo":40,"hi":63},{"m":"20-60% expr.","k":"O1","x":25,"lo":28,"hi":50},{"m":"20-60% expr.","k":"O1","x":28,"lo":15,"hi":30},{"m":"20-60% expr.","k":"O1","x":30,"lo":6,"hi":12},{"m":"20-60% expr.","k":"O1","x":32,"lo":25,"hi":40},{"m":"20-60% expr.","k":"O1","x":35,"lo":48,"hi":62},{"m":"20-60% expr.","k":"O1","x":45,"lo":58,"hi":72},{"m":"20-60% expr.","k":"O1","x":55,"lo":62,"hi":77},{"m":"20-60% expr.","k":"O1","x":65,"lo":66,"hi":82},{"m":"20-60% expr.","k":"O1","x":69,"lo":68,"hi":85},{"m":"20-60% expr.","k":"O1","x":71,"lo":48,"hi":70},{"m":"20-60% expr.","k":"O1","x":80,"lo":48,"hi":70},{"m":"20-60% expr.","k":"O1","x":90,"lo":47,"hi":69},{"m":"20-60% expr.","k":"O1","x":95,"lo":47,"hi":68},
{"m":"20-60% expr.","k":"O2","x":5,"p":68,"w":79,"g":58},{"m":"20-60% expr.","k":"O2","x":10,"p":67,"w":78,"g":57},{"m":"20-60% expr.","k":"O2","x":15,"p":66,"w":76,"g":55},{"m":"20-60% expr.","k":"O2","x":20,"p":62,"w":72,"g":50},{"m":"20-60% expr.","k":"O2","x":25,"p":50,"w":60,"g":40},{"m":"20-60% expr.","k":"O2","x":28,"p":32,"w":42,"g":25},{"m":"20-60% expr.","k":"O2","x":30,"p":20,"w":31,"g":18},{"m":"20-60% expr.","k":"O2","x":32,"p":38,"w":48,"g":32},{"m":"20-60% expr.","k":"O2","x":35,"p":60,"w":68,"g":50},{"m":"20-60% expr.","k":"O2","x":45,"p":68,"w":77,"g":58},{"m":"20-60% expr.","k":"O2","x":55,"p":72,"w":80,"g":62},{"m":"20-60% expr.","k":"O2","x":65,"p":75,"w":83,"g":66},{"m":"20-60% expr.","k":"O2","x":69,"p":77,"w":84,"g":68},{"m":"20-60% expr.","k":"O2","x":71,"p":62,"w":80,"g":54},{"m":"20-60% expr.","k":"O2","x":80,"p":61,"w":79,"g":53},{"m":"20-60% expr.","k":"O2","x":90,"p":61,"w":79,"g":52},{"m":"20-60% expr.","k":"O2","x":95,"p":60,"w":78,"g":52},
{"m":"60-100% expr.","k":"K1","x":5,"lo":70,"hi":82},{"m":"60-100% expr.","k":"K1","x":10,"lo":68,"hi":79},{"m":"60-100% expr.","k":"K1","x":15,"lo":65,"hi":75},{"m":"60-100% expr.","k":"K1","x":20,"lo":58,"hi":68},{"m":"60-100% expr.","k":"K1","x":25,"lo":40,"hi":52},{"m":"60-100% expr.","k":"K1","x":28,"lo":20,"hi":32},{"m":"60-100% expr.","k":"K1","x":30,"lo":8,"hi":15},{"m":"60-100% expr.","k":"K1","x":32,"lo":30,"hi":42},{"m":"60-100% expr.","k":"K1","x":35,"lo":60,"hi":70},{"m":"60-100% expr.","k":"K1","x":40,"lo":76,"hi":82},{"m":"60-100% expr.","k":"K1","x":45,"lo":82,"hi":87},{"m":"60-100% expr.","k":"K1","x":50,"lo":84,"hi":89},{"m":"60-100% expr.","k":"K1","x":60,"lo":86,"hi":90},{"m":"60-100% expr.","k":"K1","x":69,"lo":87,"hi":91},{"m":"60-100% expr.","k":"K1","x":71,"lo":68,"hi":80},{"m":"60-100% expr.","k":"K1","x":75,"lo":66,"hi":76},{"m":"60-100% expr.","k":"K1","x":80,"lo":66,"hi":75},{"m":"60-100% expr.","k":"K1","x":85,"lo":65,"hi":74},{"m":"60-100% expr.","k":"K1","x":90,"lo":65,"hi":73},{"m":"60-100% expr.","k":"K1","x":95,"lo":66,"hi":73},
{"m":"60-100% expr.","k":"K2","x":5,"p":79,"w":86,"g":66},{"m":"60-100% expr.","k":"K2","x":10,"p":79,"w":85,"g":62},{"m":"60-100% expr.","k":"K2","x":15,"p":78,"w":82,"g":57},{"m":"60-100% expr.","k":"K2","x":18,"p":76,"w":77,"g":58},{"m":"60-100% expr.","k":"K2","x":21,"p":70,"w":70,"g":55},{"m":"60-100% expr.","k":"K2","x":25,"p":52,"w":52,"g":40},{"m":"60-100% expr.","k":"K2","x":28,"p":25,"w":25,"g":18},{"m":"60-100% expr.","k":"K2","x":30,"p":10,"w":13,"g":7},{"m":"60-100% expr.","k":"K2","x":32,"p":35,"w":40,"g":28},{"m":"60-100% expr.","k":"K2","x":35,"p":66,"w":62,"g":55},{"m":"60-100% expr.","k":"K2","x":40,"p":82,"w":80,"g":70},{"m":"60-100% expr.","k":"K2","x":45,"p":87,"w":87,"g":75},{"m":"60-100% expr.","k":"K2","x":50,"p":89,"w":89,"g":78},{"m":"60-100% expr.","k":"K2","x":60,"p":91,"w":91,"g":82},{"m":"60-100% expr.","k":"K2","x":69,"p":93,"w":92,"g":86},{"m":"60-100% expr.","k":"K2","x":71,"p":78,"w":88,"g":66},{"m":"60-100% expr.","k":"K2","x":75,"p":76,"w":87,"g":62},{"m":"60-100% expr.","k":"K2","x":80,"p":75,"w":87,"g":60},{"m":"60-100% expr.","k":"K2","x":85,"p":74,"w":86,"g":59},{"m":"60-100% expr.","k":"K2","x":90,"p":74,"w":86,"g":58},{"m":"60-100% expr.","k":"K2","x":95,"p":73,"w":85,"g":57},
{"m":"60-100% expr.","k":"O1","x":5,"lo":50,"hi":65},{"m":"60-100% expr.","k":"O1","x":10,"lo":48,"hi":63},{"m":"60-100% expr.","k":"O1","x":15,"lo":45,"hi":60},{"m":"60-100% expr.","k":"O1","x":20,"lo":40,"hi":55},{"m":"60-100% expr.","k":"O1","x":25,"lo":25,"hi":40},{"m":"60-100% expr.","k":"O1","x":28,"lo":12,"hi":22},{"m":"60-100% expr.","k":"O1","x":30,"lo":6,"hi":14},{"m":"60-100% expr.","k":"O1","x":33,"lo":25,"hi":38},{"m":"60-100% expr.","k":"O1","x":37,"lo":45,"hi":58},{"m":"60-100% expr.","k":"O1","x":45,"lo":58,"hi":70},{"m":"60-100% expr.","k":"O1","x":55,"lo":63,"hi":76},{"m":"60-100% expr.","k":"O1","x":65,"lo":67,"hi":80},{"m":"60-100% expr.","k":"O1","x":69,"lo":68,"hi":82},{"m":"60-100% expr.","k":"O1","x":71,"lo":55,"hi":72},{"m":"60-100% expr.","k":"O1","x":80,"lo":55,"hi":70},{"m":"60-100% expr.","k":"O1","x":90,"lo":54,"hi":68},{"m":"60-100% expr.","k":"O1","x":95,"lo":53,"hi":68},
{"m":"60-100% expr.","k":"O2","x":5,"p":69,"w":82,"g":56},{"m":"60-100% expr.","k":"O2","x":10,"p":69,"w":80,"g":52},{"m":"60-100% expr.","k":"O2","x":15,"p":68,"w":78,"g":49},{"m":"60-100% expr.","k":"O2","x":20,"p":64,"w":68,"g":45},{"m":"60-100% expr.","k":"O2","x":24,"p":55,"w":55,"g":38},{"m":"60-100% expr.","k":"O2","x":27,"p":35,"w":40,"g":20},{"m":"60-100% expr.","k":"O2","x":29,"p":12,"w":33,"g":7},{"m":"60-100% expr.","k":"O2","x":31,"p":30,"w":45,"g":18},{"m":"60-100% expr.","k":"O2","x":34,"p":55,"w":65,"g":42},{"m":"60-100% expr.","k":"O2","x":40,"p":68,"w":78,"g":55},{"m":"60-100% expr.","k":"O2","x":50,"p":74,"w":83,"g":65},{"m":"60-100% expr.","k":"O2","x":60,"p":79,"w":86,"g":72},{"m":"60-100% expr.","k":"O2","x":69,"p":84,"w":88,"g":79},{"m":"60-100% expr.","k":"O2","x":71,"p":75,"w":88,"g":64},{"m":"60-100% expr.","k":"O2","x":80,"p":73,"w":87,"g":61},{"m":"60-100% expr.","k":"O2","x":90,"p":70,"w":86,"g":59},{"m":"60-100% expr.","k":"O2","x":95,"p":70,"w":85,"g":58}
]
},
"hconcat":[
{"title":{"text":"a)","anchor":"start","fontSize":15,"fontWeight":"normal","offset":-6},
 "vconcat":[
  {"data":{"name":"a"},
   "transform":[{"filter":{"field":"m","oneOf":["H3K27ac","H3K4me3","H3K27me3"]}}],
   "facet":{"row":{"field":"m","type":"nominal","sort":["H3K27ac","H3K4me3","H3K27me3"],"title":null,"header":{"labelAngle":-90,"labelOrient":"left","labelFontSize":5.5,"labelColor":"#333","labelPadding":1.5}},
            "column":{"field":"k","type":"nominal","sort":["K1","K2","O1","O2"],"title":null,"header":{"labelFontSize":5.5,"labelColor":"#333","labelExpr":"datum.value == 'K1' ? 'Kasumi-1' : datum.value == 'O1' ? 'OCI-AML3' : ''","labelAnchor":"end","labelAlign":"center","labelPadding":12}}},
   "spacing":0,"bounds":"flush",
   "spec":{"width":77.6,"height":77.6,"layer":[
     {"mark":{"type":"area","stroke":"#92c5de","strokeWidth":0.6},"encoding":{"x":{"field":"x","type":"quantitative","scale":{"domain":[0,100],"nice":false,"zero":false},"axis":{"values":[30,70],"labels":false,"ticks":false,"title":null}},"y":{"field":"lo","type":"quantitative","scale":{"domain":[-5,105],"nice":false,"zero":false},"axis":{"values":[0,25,50,75,100],"title":null}},"y2":{"field":"hi"},"fill":{"datum":"single cells and synthetic pseudo-bulk","scale":{"range":["#92c5de"]},"legend":{"title":null,"orient":"none","legendX":243,"legendY":403,"symbolType":"M-1,-0.55H1V-0.25H-1Z","symbolSize":81,"labelExpr":"['single cells and','synthetic pseudo-bulk']","labelFontSize":5.5,"labelBaseline":"alphabetic","labelOffset":3,"padding":0}}}},
     {"mark":{"type":"line","color":"#a9d0ea","strokeWidth":0.8},"encoding":{"x":{"field":"x","type":"quantitative"},"y":{"field":"p","type":"quantitative"}}},
     {"mark":{"type":"line","strokeWidth":0.8},"encoding":{"x":{"field":"x","type":"quantitative"},"y":{"field":"w","type":"quantitative"},"stroke":{"datum":"WGBS","scale":{"domain":["WGBS","450k"],"range":["#e5474b","#5dbb95"]},"legend":{"title":null,"orient":"none","legendX":314,"legendY":404,"symbolType":"stroke","symbolSize":100,"symbolStrokeWidth":1.2,"labelFontSize":5.5,"labelOffset":2,"clipHeight":6,"rowPadding":1.7,"padding":0}}}},
     {"mark":{"type":"line","strokeWidth":0.8},"encoding":{"x":{"field":"x","type":"quantitative"},"y":{"field":"g","type":"quantitative"},"stroke":{"datum":"450k"}}}
   ]}},
  {"hconcat":[
   {"data":{"name":"a"},
    "transform":[{"filter":{"field":"m","oneOf":["H3K4me2","H3K9ac"]}}],
    "facet":{"row":{"field":"m","type":"nominal","sort":["H3K4me2","H3K9ac"],"title":null,"header":{"labelAngle":-90,"labelOrient":"left","labelFontSize":5.5,"labelColor":"#333","labelPadding":1.5}},
             "column":{"field":"k","type":"nominal","sort":["K1","K2"],"title":null,"header":{"labels":false}}},
    "spacing":0,"bounds":"flush",
    "spec":{"width":77.6,"height":77.6,"layer":[
     {"mark":{"type":"area","stroke":"#92c5de","strokeWidth":0.6},"encoding":{"x":{"field":"x","type":"quantitative","scale":{"domain":[0,100],"nice":false,"zero":false},"axis":{"values":[30,70],"labels":false,"ticks":false,"title":null}},"y":{"field":"lo","type":"quantitative","scale":{"domain":[-5,105],"nice":false,"zero":false},"axis":{"values":[0,25,50,75,100],"title":null}},"y2":{"field":"hi"},"fill":{"datum":"single cells and synthetic pseudo-bulk"}}},
     {"mark":{"type":"line","color":"#a9d0ea","strokeWidth":0.8},"encoding":{"x":{"field":"x","type":"quantitative"},"y":{"field":"p","type":"quantitative"}}},
     {"mark":{"type":"line","strokeWidth":0.8},"encoding":{"x":{"field":"x","type":"quantitative"},"y":{"field":"w","type":"quantitative"},"stroke":{"datum":"WGBS"}}},
     {"mark":{"type":"line","strokeWidth":0.8},"encoding":{"x":{"field":"x","type":"quantitative"},"y":{"field":"g","type":"quantitative"},"stroke":{"datum":"450k"}}}
    ]}},
   {"data":{"name":"na"},"width":155.2,"height":155.2,"view":{"stroke":null},
    "mark":{"type":"text","fontSize":7,"color":"#333"},
    "encoding":{"x":{"field":"k","type":"nominal","axis":null},"y":{"field":"m","type":"nominal","axis":null,"sort":["H3K4me2","H3K9ac"]},"text":{"field":"t"}}}
  ],"spacing":0},
  {"width":310.4,"height":36,"view":{"stroke":null},
   "layer":[
    {"data":{"name":"ann"},"mark":{"type":"rule","strokeDash":[3,2],"color":"#333","strokeWidth":0.6},
     "encoding":{"x":{"field":"top","type":"quantitative","scale":{"domain":[0,400],"nice":false,"zero":false},"axis":null},"x2":{"field":"bot"},"y":{"datum":0,"scale":{"domain":[0,36],"reverse":true,"nice":false,"zero":false},"axis":{"values":[18],"labelExpr":"'100'","labelColor":"transparent","tickColor":"transparent","grid":false,"title":"H3K9ac","titleColor":"transparent","titleFontSize":5.5,"titleFontWeight":"normal","titlePadding":1.5}},"y2":{"datum":13.5}}},
    {"data":{"name":"ann"},"mark":{"type":"text","fontSize":7,"color":"#222"},
     "encoding":{"x":{"field":"bot","type":"quantitative"},"y":{"datum":19},"text":{"field":"lab"}}},
    {"data":{"name":"anntitle"},"mark":{"type":"text","fontSize":7,"color":"#222"},
     "encoding":{"x":{"field":"c","type":"quantitative"},"y":{"datum":28.5},"text":{"field":"t"}}}
   ]}
 ],"spacing":0},
{"title":{"text":"b)","anchor":"start","fontSize":15,"fontWeight":"normal","offset":-6},
 "vconcat":[
  {"data":{"name":"b"},
   "facet":{"row":{"field":"m","type":"nominal","sort":["CGI","all GENCODE basic","0-20% expr.","20-60% expr.","60-100% expr."],"title":null,"header":{"labelAngle":-90,"labelOrient":"left","labelFontSize":5.5,"labelColor":"#333","labelPadding":1.5}},
            "column":{"field":"k","type":"nominal","sort":["K1","K2","O1","O2"],"title":null,"header":{"labelFontSize":5.5,"labelColor":"#333","labelExpr":"datum.value == 'K1' ? 'Kasumi-1' : datum.value == 'O1' ? 'OCI-AML3' : ''","labelAnchor":"end","labelAlign":"center","labelPadding":12}}},
   "spacing":0,"bounds":"flush",
   "spec":{"width":78,"height":77.6,"layer":[
     {"mark":{"type":"area","stroke":"#92c5de","strokeWidth":0.6},"encoding":{"x":{"field":"x","type":"quantitative","scale":{"domain":[0,100],"nice":false,"zero":false},"axis":{"values":[30,70],"labels":false,"ticks":false,"title":null}},"y":{"field":"lo","type":"quantitative","scale":{"domain":[-5,105],"nice":false,"zero":false},"axis":{"values":[0,25,50,75,100],"title":null}},"y2":{"field":"hi"},"fill":{"datum":"single cells and synthetic pseudo-bulk"}}},
     {"mark":{"type":"line","color":"#a9d0ea","strokeWidth":0.8},"encoding":{"x":{"field":"x","type":"quantitative"},"y":{"field":"p","type":"quantitative"}}},
     {"mark":{"type":"line","strokeWidth":0.8},"encoding":{"x":{"field":"x","type":"quantitative"},"y":{"field":"w","type":"quantitative"},"stroke":{"datum":"WGBS"}}},
     {"mark":{"type":"line","strokeWidth":0.8},"encoding":{"x":{"field":"x","type":"quantitative"},"y":{"field":"g","type":"quantitative"},"stroke":{"datum":"450k"}}}
   ]}},
  {"width":312,"height":36,"view":{"stroke":null},
   "layer":[
    {"data":{"name":"ann"},"mark":{"type":"rule","strokeDash":[3,2],"color":"#333","strokeWidth":0.6},
     "encoding":{"x":{"field":"top","type":"quantitative","scale":{"domain":[0,400],"nice":false,"zero":false},"axis":null},"x2":{"field":"bot"},"y":{"datum":0,"scale":{"domain":[0,36],"reverse":true,"nice":false,"zero":false},"axis":{"values":[18],"labelExpr":"'100'","labelColor":"transparent","tickColor":"transparent","grid":false,"title":"CGI","titleColor":"transparent","titleFontSize":5.5,"titleFontWeight":"normal","titlePadding":1.5}},"y2":{"datum":13.5}}},
    {"data":{"name":"ann"},"mark":{"type":"text","fontSize":7,"color":"#222"},
     "encoding":{"x":{"field":"bot","type":"quantitative"},"y":{"datum":19},"text":{"field":"lab"}}},
    {"data":{"name":"anntitle"},"mark":{"type":"text","fontSize":7,"color":"#222"},
     "encoding":{"x":{"field":"c","type":"quantitative"},"y":{"datum":28.5},"text":{"field":"t"}}}
   ]}
 ],"spacing":0}
]
}
